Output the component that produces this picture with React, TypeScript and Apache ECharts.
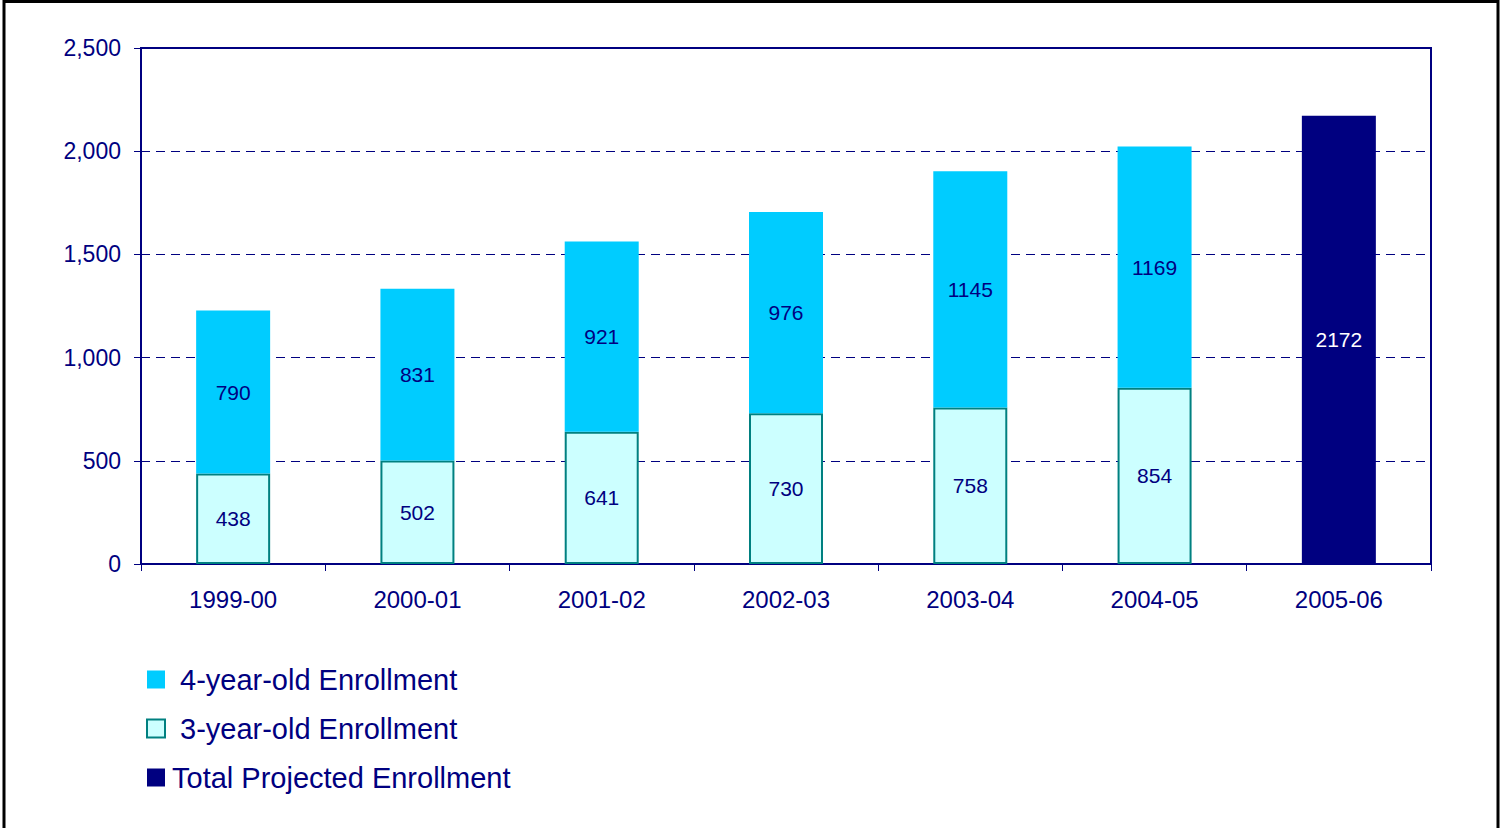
import React, { useEffect, useRef } from "react";
import * as echarts from "echarts";

const categories = ["1999-00", "2000-01", "2001-02", "2002-03", "2003-04", "2004-05", "2005-06"];
const threeYearOld = [438, 502, 641, 730, 758, 854, null];
const fourYearOld = [790, 831, 921, 976, 1145, 1169, null];
const totalProjected = [null, null, null, null, null, null, 2172];

const NAVY = "#000080";
const FONT = "Liberation Sans, Arial, sans-serif";

export default function App() {
  const ref = useRef<HTMLDivElement>(null);
  useEffect(() => {
    const chart = echarts.init(ref.current!, null, { renderer: "svg" });
    const labelStyle = { show: true, position: "inside", color: NAVY, fontSize: 21, fontFamily: FONT };
    chart.setOption({
      animation: false,
      backgroundColor: "#ffffff",
      graphic: [
        {
          type: "rect",
          shape: { x: 4, y: 1.5, width: 1494, height: 840 },
          style: { fill: "none", stroke: "#000000", lineWidth: 3 },
          silent: true,
        },
      ],
      grid: {
        left: 141,
        top: 48,
        width: 1290,
        height: 516,
        show: true,
        borderColor: NAVY,
        borderWidth: 2,
        containLabel: false,
      },
      legend: {
        orient: "vertical",
        left: 141,
        top: 660,
        itemGap: 20,
        itemWidth: 18,
        itemHeight: 18,
        icon: "rect",
        textStyle: { color: NAVY, fontSize: 29, fontFamily: FONT },
        data: [
          {
            name: "4-year-old Enrollment",
            itemStyle: { color: "#00CCFF" },
            textStyle: { padding: [0, 0, 0, 10] },
          },
          {
            name: "3-year-old Enrollment",
            itemStyle: { color: "#CCFFFF", borderColor: "#008080", borderWidth: 2 },
            textStyle: { padding: [0, 0, 0, 10] },
          },
          { name: "Total Projected Enrollment", itemStyle: { color: NAVY }, textStyle: { padding: [0, 0, 0, 2] } },
        ],
      },
      xAxis: {
        type: "category",
        data: categories,
        axisLine: { lineStyle: { color: NAVY, width: 2 } },
        axisTick: { show: true, inside: false, length: 7, lineStyle: { color: NAVY, width: 1 } },
        axisLabel: { color: NAVY, fontSize: 24, fontFamily: FONT, margin: 23 },
        splitLine: { show: false },
      },
      yAxis: {
        type: "value",
        min: 0,
        max: 2500,
        interval: 500,
        axisLine: { show: true, lineStyle: { color: NAVY, width: 2 } },
        axisTick: { show: true, inside: false, length: 7, lineStyle: { color: NAVY, width: 1 } },
        axisLabel: {
          color: NAVY,
          fontSize: 23,
          fontFamily: FONT,
          margin: 20,
          formatter: (v: number) => v.toLocaleString("en-US"),
        },
        splitLine: { show: true, lineStyle: { color: NAVY, type: [9, 6], width: 1 } },
      },
      series: [
        {
          name: "3-year-old Enrollment",
          type: "bar",
          stack: "a",
          barWidth: 74,
          data: threeYearOld,
          itemStyle: { color: "#CCFFFF", borderColor: "#008080", borderWidth: 2 },
          label: labelStyle,
        },
        {
          name: "4-year-old Enrollment",
          type: "bar",
          stack: "a",
          barWidth: 74,
          data: fourYearOld,
          itemStyle: { color: "#00CCFF" },
          label: labelStyle,
        },
        {
          name: "Total Projected Enrollment",
          type: "bar",
          stack: "a",
          barWidth: 74,
          data: totalProjected,
          itemStyle: { color: NAVY },
          label: { ...labelStyle, color: "#ffffff" },
        },
      ],
    });
    return () => chart.dispose();
  }, []);
  return <div ref={ref} style={{ position: "fixed", left: 0, top: 0, width: 1501, height: 828 }} />;
}
